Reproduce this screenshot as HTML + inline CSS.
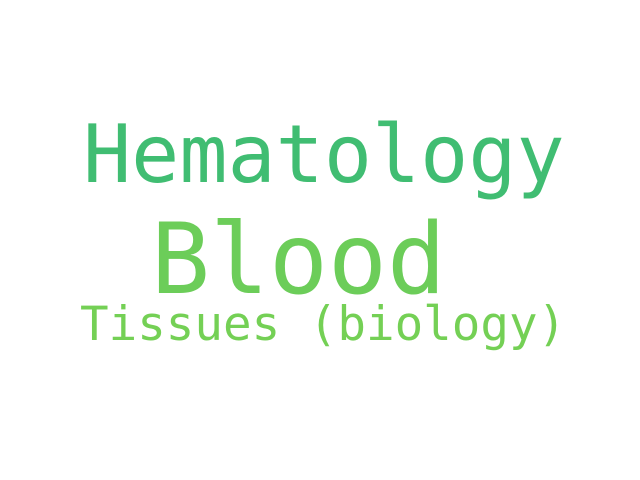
<!DOCTYPE html>
<html><head><meta charset="utf-8"><style>
html,body{margin:0;padding:0;background:#fff;width:640px;height:480px;overflow:hidden}
text{font-family:"DejaVu Sans Mono","Liberation Mono",monospace}
</style></head><body>
<svg width="640" height="480">
<rect width="640" height="480" fill="#fff"/>
<g id="words"></g>
</svg>
<script>
const words=["Hematology","Blood","Tissues (biology)"];
const sizes=[80,98,47.5];
const xs=[83,151,80];
const ys=[182,293,340];
const colors=["#40bd72","#6ccd59","#74d055"];
const g=document.getElementById('words');
words.forEach((w,i)=>{
 const t=document.createElementNS('http://www.w3.org/2000/svg','text');
 t.setAttribute('x',xs[i]);t.setAttribute('y',ys[i]);
 t.setAttribute('font-size',sizes[i]);t.setAttribute('fill',colors[i]);
 t.textContent=w;
 
 
 g.appendChild(t);
});
</script>
</body></html>
